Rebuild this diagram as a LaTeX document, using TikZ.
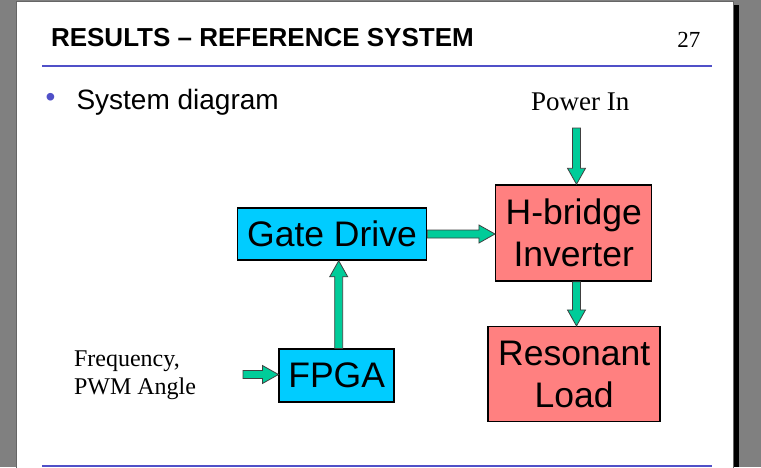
\documentclass[tikz,border=0pt]{standalone}
\usepackage{fontspec}
\setmainfont{Liberation Serif}
\newfontfamily\arial{Liberation Sans}
\usetikzlibrary{calc}

\definecolor{bggray}{RGB}{128,128,128}
\definecolor{boxblue}{RGB}{0,204,255}
\definecolor{boxred}{RGB}{255,128,128}
\definecolor{arrowgreen}{RGB}{0,204,153}
\definecolor{ruleblue}{RGB}{80,80,200}

\tikzset{
  blockbox/.style={draw=black, line width=1.5pt, inner sep=0pt, align=center,
    font=\arial\fontsize{35.5}{42}\selectfont},
  blockarrow/.style={draw=black!75, line width=0.8pt, fill=arrowgreen,
    to path={($(\tikztostart)!4pt!90:(\tikztotarget)$)
      -- ($(\tikztotarget)!16pt!(\tikztostart)!4pt!90:(\tikztotarget)$)
      -- ($(\tikztotarget)!16pt!(\tikztostart)!9pt!90:(\tikztotarget)$)
      -- (\tikztotarget)
      -- ($(\tikztotarget)!16pt!(\tikztostart)!9pt!-90:(\tikztotarget)$)
      -- ($(\tikztotarget)!16pt!(\tikztostart)!4pt!-90:(\tikztotarget)$)
      -- ($(\tikztostart)!4pt!-90:(\tikztotarget)$) -- cycle}}
}

\begin{document}
\begin{tikzpicture}[x=1pt, y=-1pt]
    \useasboundingbox (0,0) rectangle (761,467);

    % slide
    \fill[bggray] (0,0) rectangle (761,467);
    \fill[black] (733,5) rectangle (738.5,467);
    \draw[black!60, fill=white, line width=1pt] (16.5,1.5) rectangle (733,480);

    % title
    \node[anchor=base west, font=\arial\bfseries\fontsize{26}{30}\selectfont] (title) at (47.5,46) {RESULTS – REFERENCE SYSTEM};
    \node[anchor=base east, font=\fontsize{23}{28}\selectfont] (pagenum) at (704,47) {27};
    \draw[ruleblue, line width=2pt] (42,66) -- (712,66);
    \draw[ruleblue, line width=2pt] (42,465.5) -- (712,465.5);

    % bullet
    \node[ruleblue, anchor=base, font=\arial\fontsize{28}{34}\selectfont] (bullet) at (50.5,106) {•};
    \node[anchor=base west, font=\arial\fontsize{28}{34}\selectfont] (sysdiag) at (73,109.5) {System diagram};

    % inputs
    \node[anchor=base, font=\fontsize{27}{32}\selectfont] (power) at (580.3,110.5) {Power In};
    \node[anchor=base west, align=left, font=\fontsize{24}{27.3}\selectfont] (freq) at (70.5,394) {Frequency,\\PWM Angle};

    % blocks
    \node[blockbox, fill=boxblue, minimum width=189pt, minimum height=52pt] (gate) at (332,234) {Gate Drive};
    \node[blockbox, fill=boxred, minimum width=156pt, minimum height=96pt] (hbridge) at (573.7,233) {H-bridge\\Inverter};
    \node[blockbox, fill=boxred, minimum width=172pt, minimum height=95pt] (load) at (574.2,374.2) {Resonant\\Load};
    \node[blockbox, fill=boxblue, minimum width=115pt, minimum height=53pt] (fpga) at (336.7,375.7) {FPGA};

    % arrows
    \coordinate (powertail) at (576.5,128);
    \coordinate (freqtail) at (243,374.5);
    \draw[blockarrow] (powertail) to (powertail |- hbridge.north);
    \draw[blockarrow] (gate.east) to (gate.east -| hbridge.west);
    \draw[blockarrow] ([xshift=2pt]fpga.north) to ([xshift=2pt]fpga.north |- gate.south);
    \draw[blockarrow] (powertail |- hbridge.south) to (powertail |- load.north);
    \draw[blockarrow] (freqtail) to (freqtail -| fpga.west);
\end{tikzpicture}
\end{document}
